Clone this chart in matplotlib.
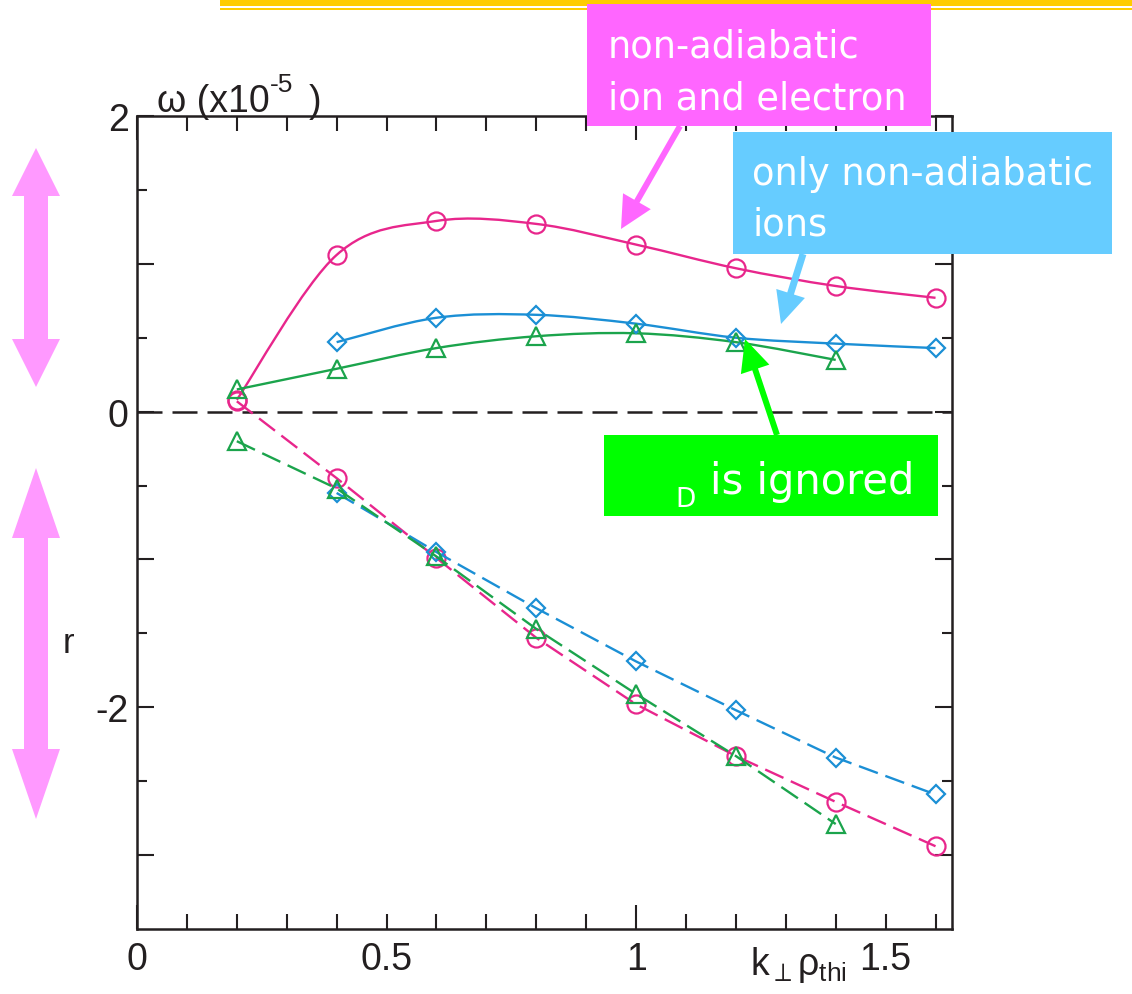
import matplotlib.pyplot as plt
import numpy as np
from matplotlib.path import Path
from matplotlib.patches import PathPatch, Rectangle, Polygon, FancyArrow

plt.rcParams['font.family'] = ['Liberation Sans', 'DejaVu Sans']
plt.rcParams['mathtext.fontset'] = 'custom'
plt.rcParams['mathtext.rm'] = 'Liberation Sans'
plt.rcParams['mathtext.it'] = 'Liberation Sans'
plt.rcParams['mathtext.bf'] = 'Liberation Sans:bold'

# k_perp * rho_thi
k = [0.2, 0.4, 0.6, 0.8, 1.0, 1.2, 1.4, 1.6]

# real frequency (solid lines), x1e-5
freq_full = [0.08, 1.06, 1.29, 1.27, 1.13, 0.97, 0.85, 0.77]
freq_ion_k = k[1:]
freq_ion = [0.47, 0.635, 0.655, 0.595, 0.50, 0.46, 0.43]
freq_noD_k = k[:7]
freq_noD = [0.15, 0.29, 0.43, 0.51, 0.53, 0.47, 0.35]

# growth rate (dashed lines), x1e-5
gr_full = [0.07, -0.45, -0.99, -1.53, -1.98, -2.33, -2.64, -2.94]
gr_ion_k = k[1:]
gr_ion = [-0.55, -0.95, -1.33, -1.69, -2.02, -2.34, -2.59]
gr_noD_k = k[:7]
gr_noD = [-0.20, -0.52, -0.98, -1.47, -1.91, -2.33, -2.79]

PINK = '#E8268C'
BLUE = '#1B8FD5'
GREEN = '#1BA44C'
INK = '#231F20'


def smooth_path(xs, ys):
    # Catmull-Rom through the points, as cubic Bezier segments
    pts = np.column_stack([xs, ys]).astype(float)
    ext = np.vstack([pts[0], pts, pts[-1]])
    verts = [pts[0]]
    codes = [Path.MOVETO]
    for i in range(len(pts) - 1):
        p0, p1, p2, p3 = ext[i], ext[i + 1], ext[i + 2], ext[i + 3]
        verts += [p1 + (p2 - p0) / 6, p2 - (p3 - p1) / 6, p2]
        codes += [Path.CURVE4] * 3
    return Path(verts, codes)


W, H = 1132, 995
fig = plt.figure(figsize=(W / 100, H / 100), dpi=100)
ax = fig.add_axes([137 / W, 1 - 930 / H, (952 - 137) / W, (930 - 117) / H])

ax.axhline(0, color=INK, lw=1.8, dashes=(10, 4), zorder=1)

series = [
    (k, freq_full, k, gr_full, PINK, 'o', 13),
    (freq_ion_k, freq_ion, gr_ion_k, gr_ion, BLUE, 'D', 9.5),
    (freq_noD_k, freq_noD, gr_noD_k, gr_noD, GREEN, '^', 13),
]
for fx, fy, gx, gy, c, m, ms in series:
    ax.add_patch(PathPatch(smooth_path(fx, fy), fill=False, edgecolor=c, lw=1.7, zorder=2))
    ax.plot(fx, fy, ls='none', marker=m, ms=ms, mfc='none', mec=c, mew=1.6, zorder=3)
    ax.plot(gx, gy, color=c, lw=1.7, dashes=(8.5, 3.4), marker=m, ms=ms,
            mfc='none', mec=c, mew=1.6, zorder=3)

ax.set_xlim(0, 1.633)
ax.set_ylim(-3.5, 2)

ax.set_xticks([0, 1], labels=['0', '1'])
minor_x = [round(0.1 * i, 1) for i in range(1, 17) if i != 10]
ax.set_xticks(minor_x, labels=[{0.5: '0.5', 1.5: '1.5'}.get(v, '') for v in minor_x], minor=True)
ax.set_yticks([-3, -2, -1, 0, 1, 2], labels=['', '-2', '', '0', '', '2'])
ax.set_yticks([-2.5, -1.5, -0.5, 0.5, 1.5], minor=True)

ax.tick_params(which='both', direction='in', top=True, right=True, width=1.5,
               color=INK, labelcolor=INK, labelsize=27)
ax.tick_params(axis='x', which='major', length=17, pad=9)
ax.tick_params(axis='x', which='minor', length=11, pad=9)
ax.tick_params(axis='y', which='major', length=12, pad=6)
ax.tick_params(axis='y', which='minor', length=7, pad=6)
for s in ax.spines.values():
    s.set_linewidth(1.8)
    s.set_color(INK)

# annotation layer in pixel coordinates
ov = fig.add_axes([0, 0, 1, 1], zorder=10)
ov.set_xlim(0, W)
ov.set_ylim(H, 0)
ov.axis('off')

ov.add_patch(Rectangle((220, 0), W - 220, 6.5, color='#FFCC00', lw=0))
ov.add_patch(Rectangle((220, 8.5), W - 220, 2.5, color='#FFCC00', lw=0))

# y axis caption: omega (x10^-5)
ov.text(157, 112, 'ω (x10', fontsize=27, color=INK, va='baseline')
ov.text(270, 92, '-5', fontsize=19, color=INK, va='baseline')
ov.text(309, 112, ')', fontsize=27, color=INK, va='baseline')
ov.text(750, 975, r'k$_{\perp}$ρ$_{\mathrm{thi}}$', fontsize=27, color=INK, va='baseline')
ov.text(63, 653, 'r', fontsize=25, color=INK, va='baseline')


def double_arrow(cx, top, bottom, head, half_shaft=12, half_head=24):
    pts = [(cx, top), (cx + half_head, top + head), (cx + half_shaft, top + head),
           (cx + half_shaft, bottom - head), (cx + half_head, bottom - head),
           (cx, bottom), (cx - half_head, bottom - head), (cx - half_shaft, bottom - head),
           (cx - half_shaft, top + head), (cx - half_head, top + head)]
    ov.add_patch(Polygon(pts, closed=True, color='#FF99FF', lw=0))


double_arrow(36, 149, 388, 48)
double_arrow(36, 469, 820, 70)

box_font = dict(family='DejaVu Sans', color='white', va='baseline', ha='left')

ov.add_patch(Rectangle((587, 5), 344, 122, color='#FF66FF', lw=0))
ov.text(608, 57, 'non-adiabatic', fontsize=26.5, **box_font)
ov.text(608, 110, 'ion and electron', fontsize=26.5, **box_font)
ov.add_patch(FancyArrow(680, 127, -59, 103, width=6, head_width=32, head_length=32,
                        length_includes_head=True, color='#FF66FF', lw=0))

ov.add_patch(Rectangle((733, 133), 379, 122, color='#66CCFF', lw=0))
ov.text(752, 185, 'only non-adiabatic', fontsize=26.5, **box_font)
ov.text(752, 235, 'ions', fontsize=26.5, **box_font)
ov.add_patch(FancyArrow(803, 255, -22, 70, width=7, head_width=30, head_length=32,
                        length_includes_head=True, color='#66CCFF', lw=0))

ov.add_patch(Rectangle((604, 436), 334, 81, color='#00FF00', lw=0))
ov.text(675, 507, 'D', fontsize=19, **box_font)
ov.text(710, 494, 'is ignored', fontsize=30, **box_font)
ov.add_patch(FancyArrow(777, 436, -32, -96, width=6, head_width=30, head_length=32,
                        length_includes_head=True, color='#00FF00', lw=0))

fig.savefig('out.png', dpi=100)
